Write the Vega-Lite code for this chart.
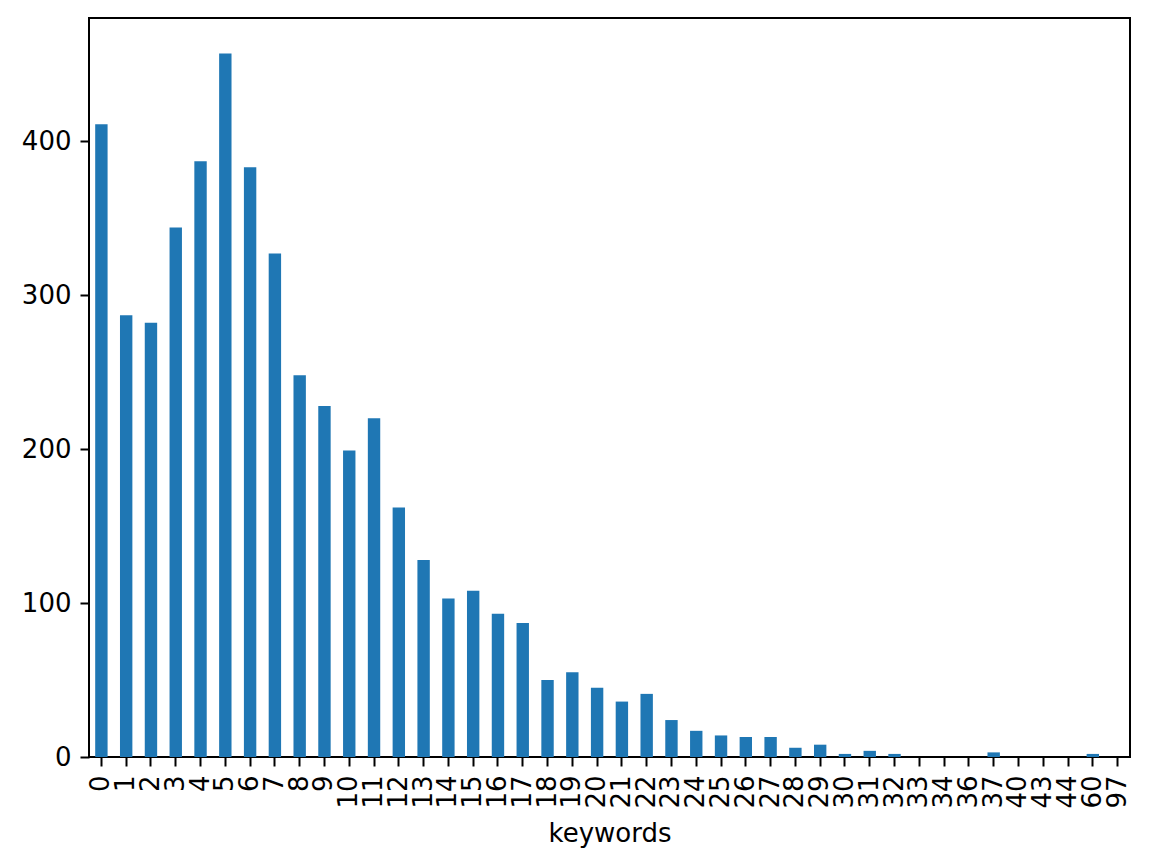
{
  "$schema": "https://vega.github.io/schema/vega-lite/v6.json",
  "width": 1041,
  "height": 739,
  "autosize": {"type": "none"},
  "padding": {"left": 89, "top": 18, "right": 20, "bottom": 109},
  "background": "white",
  "config": {
    "font": "DejaVu Sans",
    "view": {"stroke": "black", "strokeWidth": 2},
    "axis": {
      "domain": false,
      "grid": false,
      "ticks": true,
      "tickColor": "black",
      "tickWidth": 2,
      "tickSize": 9,
      "labelColor": "black",
      "labelFont": "DejaVu Sans",
      "labelFontSize": 26,
      "labelPadding": 9,
      "titleFont": "DejaVu Sans",
      "titleFontSize": 26,
      "titleFontWeight": "normal",
      "titleColor": "black"
    }
  },
  "data": {
    "values": [
      {"keywords": "0", "count": 411},
      {"keywords": "1", "count": 287},
      {"keywords": "2", "count": 282},
      {"keywords": "3", "count": 344},
      {"keywords": "4", "count": 387},
      {"keywords": "5", "count": 457},
      {"keywords": "6", "count": 383},
      {"keywords": "7", "count": 327},
      {"keywords": "8", "count": 248},
      {"keywords": "9", "count": 228},
      {"keywords": "10", "count": 199},
      {"keywords": "11", "count": 220},
      {"keywords": "12", "count": 162},
      {"keywords": "13", "count": 128},
      {"keywords": "14", "count": 103},
      {"keywords": "15", "count": 108},
      {"keywords": "16", "count": 93},
      {"keywords": "17", "count": 87},
      {"keywords": "18", "count": 50},
      {"keywords": "19", "count": 55},
      {"keywords": "20", "count": 45},
      {"keywords": "21", "count": 36},
      {"keywords": "22", "count": 41},
      {"keywords": "23", "count": 24},
      {"keywords": "24", "count": 17},
      {"keywords": "25", "count": 14},
      {"keywords": "26", "count": 13},
      {"keywords": "27", "count": 13},
      {"keywords": "28", "count": 6},
      {"keywords": "29", "count": 8},
      {"keywords": "30", "count": 2},
      {"keywords": "31", "count": 4},
      {"keywords": "32", "count": 2},
      {"keywords": "33", "count": 0},
      {"keywords": "34", "count": 0},
      {"keywords": "36", "count": 0},
      {"keywords": "37", "count": 3},
      {"keywords": "40", "count": 0},
      {"keywords": "43", "count": 0},
      {"keywords": "44", "count": 0},
      {"keywords": "60", "count": 2},
      {"keywords": "97", "count": 0}
    ]
  },
  "mark": {"type": "bar", "color": "#1f77b4"},
  "encoding": {
    "x": {
      "field": "keywords",
      "type": "ordinal",
      "sort": null,
      "title": "keywords",
      "scale": {"paddingInner": 0.5, "paddingOuter": 0.25},
      "axis": {"labelAngle": -90, "titlePadding": 12}
    },
    "y": {
      "field": "count",
      "type": "quantitative",
      "title": null,
      "scale": {"domain": [0, 480], "nice": false, "zero": true},
      "axis": {"values": [0, 100, 200, 300, 400]}
    }
  }
}
